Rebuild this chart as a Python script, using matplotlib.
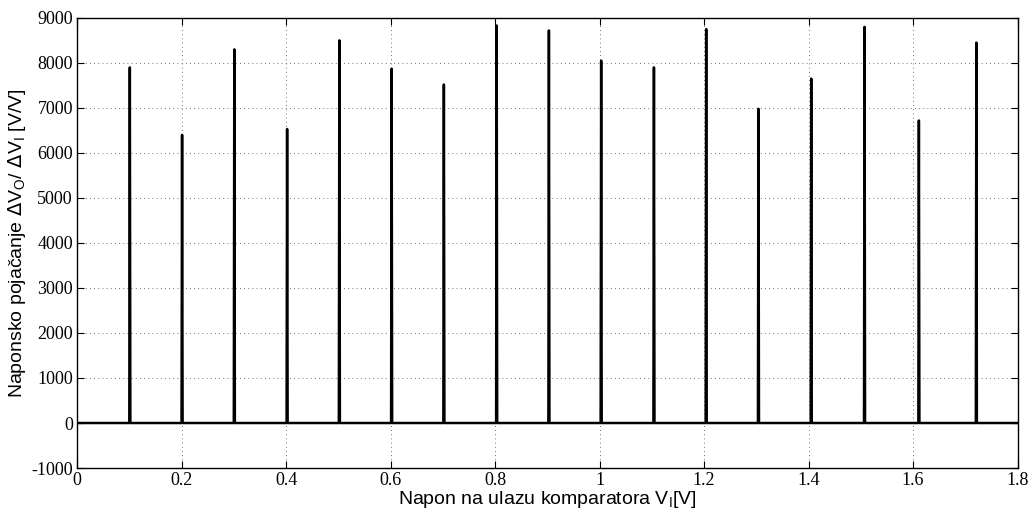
import matplotlib.pyplot as plt
import numpy as np

plt.rcParams['axes.unicode_minus'] = False  # obican minus kao u originalu

# polozaji i visine pikova pojacanja
vi_peaks = [0.101, 0.201, 0.301, 0.402, 0.502, 0.602, 0.702, 0.803, 0.903, 1.003,
            1.104, 1.204, 1.304, 1.405, 1.507, 1.611, 1.721]
gain_peaks = [7900, 6400, 8300, 6530, 8500, 7870, 7520, 8830, 8720, 8050,
              7900, 8750, 6980, 7650, 8800, 6720, 8450]

# sirina pika (u V)
w = 0.0010
x = [0.0]
y = [0.0]
for p, g in zip(vi_peaks, gain_peaks):
    x += [p - w, p, p + w]
    y += [0.0, g, 0.0]
x.append(1.8)
y.append(0.0)

fig = plt.figure(figsize=(10.3, 5.11), dpi=100)
ax = fig.add_axes([0.0748, 0.0841, 0.9132, 0.8809])
ax.plot(x, y, color='black', lw=1.8)

ax.set_xlim(0, 1.8)
ax.set_ylim(-1000, 9000)
ax.set_xticks(np.arange(0, 1.81, 0.2))
ax.set_xticklabels(['0', '0.2', '0.4', '0.6', '0.8', '1', '1.2', '1.4', '1.6', '1.8'])
ax.set_yticks(np.arange(-1000, 9001, 1000))
for lab in ax.get_xticklabels() + ax.get_yticklabels():
    lab.set_family('Liberation Serif')
    lab.set_fontsize(13)
ax.tick_params(direction='in', length=5, width=0.8, top=True, right=True, pad=3)
ax.grid(True, color='#444444', linestyle=(0, (1, 4)), linewidth=0.6)
for s in ax.spines.values():
    s.set_linewidth(1.0)

ax.set_xlabel(r'Napon na ulazu komparatora V$_\mathregular{I}$[V]',
              family='Liberation Sans', fontsize=14, labelpad=0)
ax.set_ylabel(r'Naponsko pojačanje $\Delta$V$_\mathregular{O}$/ $\Delta$V$_\mathregular{I}$ [V/V]',
              family='Liberation Sans', fontsize=14, labelpad=2)

fig.savefig('out.png', dpi=100)
